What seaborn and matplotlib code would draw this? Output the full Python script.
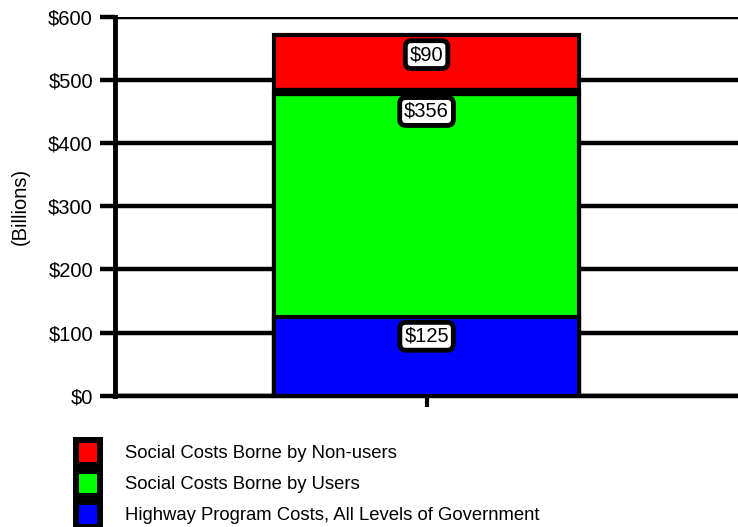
import matplotlib
matplotlib.use("Agg")
import matplotlib.pyplot as plt
from matplotlib.patches import Patch
import seaborn as sns
import pandas as pd
import numpy as np

# Cost components, bottom to top of the stack (billions of dollars)
components = [
    "Highway Program Costs, All Levels of Government",
    "Social Costs Borne by Users",
    "Social Costs Borne by Non-users",
]
values = [125, 356, 90]
colors = ["#0000ff", "#00ff00", "#ff0000"]
category = ["Total"]
y_ticks = [0, 100, 200, 300, 400, 500, 600]
y_tick_labels = ["$0", "$100", "$200", "$300", "$400", "$500", "$600"]

sns.set_theme(style="white")
plt.rcParams["font.family"] = ["Liberation Sans", "DejaVu Sans"]
plt.rcParams["text.color"] = "black"
plt.rcParams["axes.labelcolor"] = "black"
plt.rcParams["xtick.color"] = "black"
plt.rcParams["ytick.color"] = "black"

fig = plt.figure(figsize=(7.38, 5.27), dpi=100)
ax = fig.add_axes([0.156, 0.249, 0.844, 0.719])

tops = np.cumsum(values)

# Stacked bar: draw cumulative totals from tallest to shortest so each
# segment shows on top of the one above it
for i in reversed(range(len(values))):
    df = pd.DataFrame({"cat": category, "val": [tops[i]]})
    sns.barplot(data=df, x="cat", y="val", color=colors[i], width=0.49,
                saturation=1, edgecolor="black", linewidth=3, ax=ax, zorder=3)

# Heavier divider between the two social-cost segments
bar = ax.patches[0]
ax.hlines(tops[1], bar.get_x(), bar.get_x() + bar.get_width(),
          color="black", linewidth=6, zorder=3.5)

# Value labels sitting just under the top of each segment
for i, v in enumerate(values):
    ax.annotate(f"${v}", xy=(0, tops[i]), xytext=(0, -14),
                textcoords="offset points", ha="center", va="center",
                fontsize=14.5, color="black", zorder=5,
                bbox=dict(boxstyle="round,pad=0.22,rounding_size=0.3",
                          fc="white", ec="black", lw=3.5))

ax.set_xlim(-0.5, 0.5)
ax.set_ylim(0, 600)
ax.set_yticks(y_ticks)
ax.set_yticklabels(y_tick_labels, fontsize=14.5)
ax.set_xticks([0])
ax.set_xticklabels([""])
ax.set_xlabel("")
ax.set_ylabel("(Billions)", fontsize=14.5, labelpad=13)

ax.grid(axis="y", color="black", linewidth=3.2, zorder=1)
ax.set_axisbelow(True)
ax.tick_params(axis="y", which="major", left=True, length=11, width=3.2,
               color="black", pad=5)
ax.tick_params(axis="x", which="major", bottom=True, length=8, width=3,
               color="black")
for side in ["top", "right"]:
    ax.spines[side].set_visible(False)
ax.spines["left"].set_linewidth(3.5)
ax.spines["left"].set_color("black")
ax.spines["bottom"].set_linewidth(3.2)
ax.spines["bottom"].set_color("black")
ax.spines["left"].set_zorder(4)

# Legend in top-to-bottom stack order, swatches joined in one black column
fs = 13.3
px = fs * 100 / 72
patch_h = 25 / px
handles = [Patch(facecolor=colors[i], edgecolor="black", linewidth=4.3,
                 label=components[i]) for i in reversed(range(len(values)))]
fig.legend(handles=handles, loc="upper left", bbox_to_anchor=(0.103, 0.166),
           frameon=False, fontsize=fs, handlelength=24 / px,
           handleheight=(patch_h - 0.245) / 0.65, labelspacing=6 / px,
           handletextpad=25 / px, borderaxespad=0, borderpad=0)

fig.savefig("out.png", dpi=100)
